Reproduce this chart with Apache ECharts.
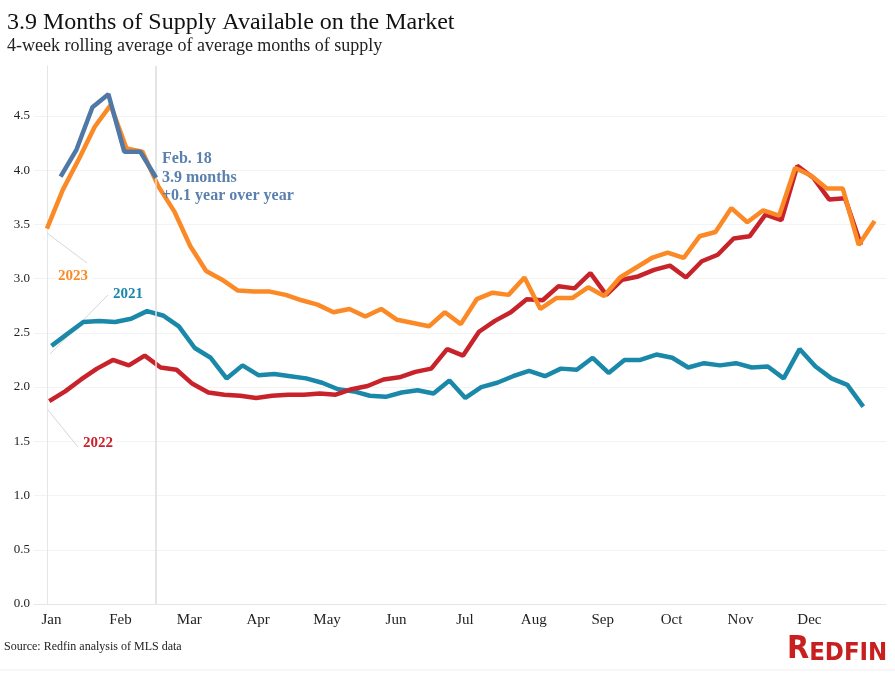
<!DOCTYPE html>
<html>
<head>
<meta charset="utf-8">
<title>Months of Supply</title>
<script src="https://cdn.jsdelivr.net/npm/echarts@6/dist/echarts.min.js"></script>
<style>
html, body { margin: 0; padding: 0; background: #fff; }
#container { width: 895px; height: 673px; }
</style>
</head>
<body>
<div id="container"></div>
<script>
// weekly 4-week rolling averages, first value is the week ending on the start date
var start2021 = '2021-01-03';
var supply2021 = [2.38,2.49,2.60,2.61,2.60,2.63,2.70,2.66,2.56,2.36,
	2.27,2.08,2.20,2.11,2.12,2.10,2.08,2.04,1.98,1.96,
	1.92,1.91,1.95,1.97,1.94,2.06,1.90,2.00,2.04,2.10,
	2.15,2.10,2.17,2.16,2.27,2.13,2.25,2.25,2.30,2.27,
	2.18,2.22,2.20,2.22,2.18,2.19,2.08,2.35,2.19,2.08,
	2.02,1.82];
var start2022 = '2022-01-02';
var supply2022 = [1.87,1.96,2.07,2.17,2.25,2.20,2.29,2.18,2.16,2.03,
	1.95,1.93,1.92,1.90,1.92,1.93,1.93,1.94,1.93,1.98,
	2.01,2.07,2.09,2.14,2.17,2.35,2.29,2.51,2.61,2.69,
	2.81,2.80,2.93,2.91,3.05,2.85,2.99,3.02,3.08,3.12,
	3.01,3.16,3.22,3.37,3.39,3.59,3.54,4.04,3.93,3.73,
	3.74,3.31];
var start2023 = '2023-01-01';
var supply2023 = [3.46,3.82,4.10,4.40,4.60,4.20,4.17,3.85,3.62,3.30,
	3.07,2.99,2.89,2.88,2.88,2.85,2.80,2.76,2.69,2.72,
	2.65,2.72,2.62,2.59,2.56,2.69,2.58,2.81,2.87,2.85,
	3.01,2.72,2.82,2.82,2.92,2.84,3.01,3.10,3.19,3.24,
	3.19,3.39,3.43,3.65,3.52,3.63,3.58,4.02,3.95,3.83,
	3.83,3.31,3.53];
var start2024 = '2024-01-07';
var supply2024 = [3.94,4.19,4.58,4.70,4.17,4.17,3.93];

var monthNames = ['Jan','Feb','Mar','Apr','May','Jun','Jul','Aug','Sep','Oct','Nov','Dec'];
// day of year where each month label sits
var monthLabelDays = [2, 32.3, 62.6, 92.9, 123.2, 153.5, 183.8, 214.1, 244.4, 274.7, 305, 335.3];

var serif = "'Liberation Serif', 'Times New Roman', serif";
var logoFont = "'DejaVu Sans Condensed', 'Liberation Sans Narrow', sans-serif";

function dayOfYear(str) {
	var t = Date.parse(str);
	var y = new Date(t).getUTCFullYear();
	return (t - Date.UTC(y, 0, 1)) / 86400000;
}
function weekly(start, values) {
	var d0 = dayOfYear(start);
	var out = [];
	for (var i = 0; i < values.length; i++) {
		out.push([d0 + 7 * i, values[i]]);
	}
	return out;
}

var dom = document.getElementById("container");
var myChart = echarts.init(dom);
var lastDay2024 = dayOfYear(start2024) + 7 * (supply2024.length - 1);

var option = {
	animation: false,
	title: {
		text: '3.9 Months of Supply Available on the Market',
		subtext: '4-week rolling average of average months of supply',
		left: 2,
		top: 6,
		itemGap: 2,
		textStyle: { fontFamily: serif, fontSize: 24, fontWeight: 'normal', color: '#111' },
		subtextStyle: { fontFamily: serif, fontSize: 18, color: '#222' }
	},
	grid: { left: 34, right: 9, top: 66, bottom: 69 },
	xAxis: {
		type: 'value',
		min: -5.7,
		max: 369,
		axisLine: { show: true, lineStyle: { color: '#e6e6e6', width: 1 } },
		axisTick: { show: false },
		splitLine: { show: false },
		axisLabel: {
			customValues: monthLabelDays,
			margin: 9,
			fontFamily: serif,
			fontSize: 15,
			color: '#222',
			formatter: function(v) {
				var k = monthLabelDays.indexOf(v);
				return k >= 0 ? monthNames[k] : '';
			}
		}
	},
	yAxis: {
		type: 'value',
		min: 0,
		max: 4.96,
		interval: 0.5,
		axisLine: { show: true, lineStyle: { color: '#e6e6e6', width: 1 } },
		axisTick: { show: false },
		splitLine: { show: true, showMaxLine: false, lineStyle: { color: '#f3f3f3', width: 1 } },
		axisLabel: {
			showMaxLabel: false,
			margin: 4,
			fontFamily: serif,
			fontSize: 13,
			color: '#222',
			formatter: function(v) { return v.toFixed(1); }
		}
	},
	series: [{
			name: '2021',
			type: 'line',
			data: weekly(start2021, supply2021),
			showSymbol: false,
			lineStyle: { color: '#1a88a8', width: 4.5 },
			itemStyle: { color: '#1a88a8' },
			z: 2
		},
		{
			name: '2022',
			type: 'line',
			data: weekly(start2022, supply2022),
			showSymbol: false,
			lineStyle: { color: '#c8232b', width: 4.5 },
			itemStyle: { color: '#c8232b' },
			z: 3
		},
		{
			name: '2023',
			type: 'line',
			data: weekly(start2023, supply2023),
			showSymbol: false,
			lineStyle: { color: '#fb8a26', width: 4.5 },
			itemStyle: { color: '#fb8a26' },
			z: 4
		},
		{
			name: '2024',
			type: 'line',
			data: weekly(start2024, supply2024),
			showSymbol: false,
			lineStyle: { color: '#4f78a6', width: 4.5 },
			itemStyle: { color: '#4f78a6' },
			z: 5,
			markLine: {
				silent: true,
				symbol: 'none',
				label: { show: false },
				lineStyle: { color: '#dcdcdc', width: 1.5, type: 'solid' },
				data: [{ xAxis: lastDay2024 }]
			}
		}
	],
	graphic: [
		// leader lines for the year labels
		{ type: 'line', shape: { x1: 47, y1: 233, x2: 87, y2: 263 }, style: { stroke: '#d6d6d6', lineWidth: 1 }, z: 1 },
		{ type: 'line', shape: { x1: 50, y1: 354, x2: 108, y2: 295 }, style: { stroke: '#d6d6d6', lineWidth: 1 }, z: 1 },
		{ type: 'line', shape: { x1: 48, y1: 410, x2: 78, y2: 447 }, style: { stroke: '#d6d6d6', lineWidth: 1 }, z: 1 },
		{ type: 'rect', left: 56, top: 270, z: 90, shape: { width: 36, height: 15 }, style: { fill: '#fff' } },
		{ type: 'rect', left: 81, top: 437, z: 90, shape: { width: 36, height: 15 }, style: { fill: '#fff' } },
		{ type: 'text', left: 58, top: 269, z: 100, style: { text: '2023', fill: '#fb8a26', font: "bold 15px " + serif } },
		{ type: 'text', left: 113, top: 287, z: 100, style: { text: '2021', fill: '#1a88a8', font: "bold 15px " + serif } },
		{ type: 'text', left: 83, top: 436, z: 100, style: { text: '2022', fill: '#c8232b', font: "bold 15px " + serif } },
		{ type: 'text', left: 162, top: 150, z: 100, style: { text: 'Feb. 18\n3.9 months\n+0.1 year over year', fill: '#5a80ad', font: "bold 16px " + serif, lineHeight: 18.5 } },
		{ type: 'text', left: 4, top: 641, z: 100, style: { text: 'Source: Redfin analysis of MLS data', fill: '#222', font: "12px " + serif } },
		{ type: 'line', shape: { x1: 0, y1: 670, x2: 895, y2: 670 }, style: { stroke: '#eeeeee', lineWidth: 1 } },
		{
			type: 'text', left: 787, top: 634, z: 100,
			style: {
				text: '{a|R}{b|EDFIN}',
				rich: {
					a: { fontFamily: logoFont, fontWeight: 'bold', fontSize: 32, fill: '#c82021', verticalAlign: 'bottom' },
					b: { fontFamily: logoFont, fontWeight: 'bold', fontSize: 25.5, fill: '#c82021', verticalAlign: 'bottom' }
				}
			}
		}
	]
};
if (option && typeof option === "object") {
	myChart.setOption(option, true);
}
</script>
</body>
</html>
